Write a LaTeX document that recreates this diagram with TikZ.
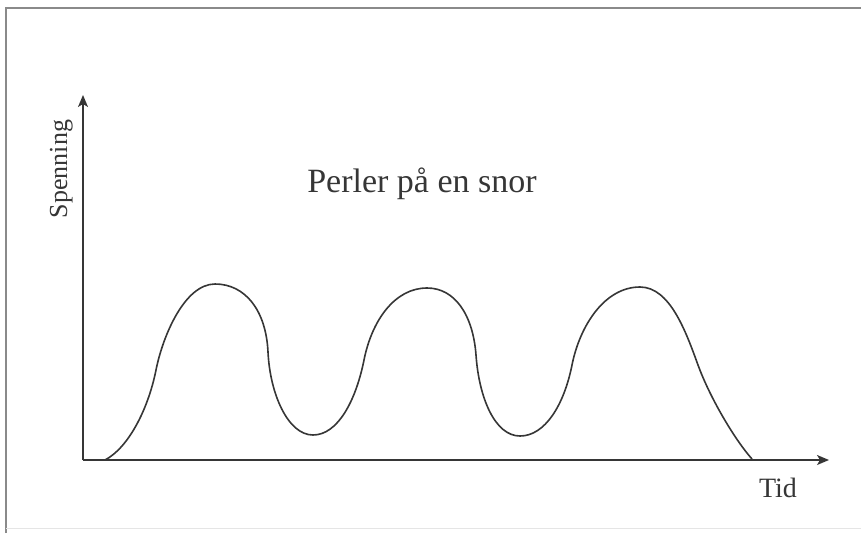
\documentclass[tikz,border=0pt]{standalone}
\usepackage{fontspec}
\setmainfont{Liberation Serif}
\usetikzlibrary{arrows.meta}
\definecolor{ink}{HTML}{363636}
\definecolor{framec}{HTML}{8A8A8A}
\begin{document}
\begin{tikzpicture}[x=1pt,y=-1pt,
  axis/.style={draw=ink, line width=1.5pt, -{Stealth[length=12pt,width=10pt,inset=3pt]}},
  wave/.style={draw=ink, line width=1.6pt, line join=round},
  framel/.style={draw=framec, line width=1.6pt},
  lbl/.style={text=ink, inner sep=0pt}]
\useasboundingbox (0,0) rectangle (861,533);
% frame
\draw[framel] (6,533) -- (6,8) -- (861,8);
\draw[draw=black!10, line width=1pt] (6,528) -- (861,528);
% axes
\coordinate (O) at (83,460);
\coordinate (ytip) at (83,95);
\coordinate (xtip) at (829,460);
\draw[axis] (O) -- (ytip);
\draw[axis] (O) -- (xtip);
% labels
\node[lbl, rotate=90, anchor=base, font=\fontsize{26}{30}\selectfont] (ylab) at (67,169) {Spenning};
\node[lbl, anchor=base, font=\fontsize{28}{32}\selectfont] (xlab) at (778,497) {Tid};
\node[lbl, anchor=base, font=\fontsize{34}{40}\selectfont] (title) at (422,192) {Perler på en snor};
% curve
\draw[wave] (105,460)
  .. controls (128,448) and (148,410) .. (156,370)
  .. controls (163,335) and (185,284) .. (215,284)
  .. controls (245,284) and (266,310) .. (268,352)
  .. controls (270,394) and (288,435) .. (313,435)
  .. controls (338,435) and (356,400) .. (364,360)
  .. controls (372,320) and (395,288) .. (427,288)
  .. controls (455,288) and (473,315) .. (476,355)
  .. controls (479,398) and (495,436) .. (520,436)
  .. controls (545,436) and (564,405) .. (572,365)
  .. controls (580,325) and (605,287) .. (640,287)
  .. controls (670,287) and (686,332) .. (698,365)
  .. controls (710,398) and (735,440) .. (752,459);
\end{tikzpicture}
\end{document}
